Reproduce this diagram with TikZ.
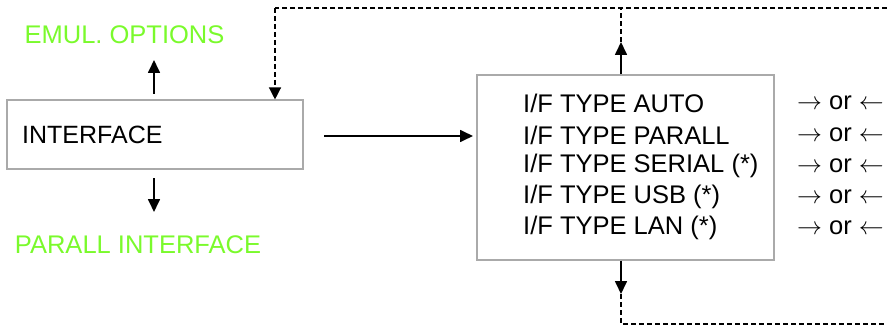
\documentclass[tikz,border=0pt]{standalone}
\usepackage{fontspec}
\setmainfont{Liberation Sans}
\usetikzlibrary{arrows.meta}
\definecolor{optgreen}{RGB}{122,250,44}
\definecolor{boxgray}{RGB}{170,170,170}
\begin{document}
\begin{tikzpicture}[x=1pt,y=-1pt,
  menubox/.style={draw=boxgray,line width=1.1pt,minimum width=#1,inner sep=0pt},
  lbl/.style={inner sep=0pt,anchor=west,font=\fontsize{25}{25}\selectfont},
  typelbl/.style={inner sep=0pt,anchor=west,font=\fontsize{25.5}{25.5}\selectfont},
  orlbl/.style={inner sep=0pt,anchor=west,font=\fontsize{25.5}{25.5}\selectfont},
  opt/.style={inner sep=0pt,text=optgreen,font=\fontsize{25.5}{25.5}\selectfont},
  solidarr/.style={line width=1.7pt,-{Triangle[length=13pt,width=12pt]}},
  dashln/.style={line width=1.3pt,dash pattern=on 5pt off 3pt},
  dasharr/.style={dashln,-{Triangle[length=12pt,width=12pt]}}]
\useasboundingbox (0,0) rectangle (887,329);
% left box
\node[menubox=296pt,minimum height=69pt] (ifbox) at (155,134.5) {};
\node[lbl] (iftext) at (22,135) {INTERFACE};
\node[opt] (emul) at (124.5,35) {EMUL. OPTIONS};
\node[opt] (parall) at (138,245) {PARALL INTERFACE};
% right box
\node[menubox=297pt,minimum height=185pt] (typebox) at (625.5,167.5) {};
\node[typelbl] (ta) at (523,103) {I/F TYPE AUTO};
\node[typelbl] (tb) at (523,135) {I/F TYPE PARALL};
\node[typelbl] (tc) at (523,166) {I/F TYPE SERIAL (*)};
\node[typelbl] (td) at (523,197) {I/F TYPE USB (*)};
\node[typelbl] (te) at (523,228) {I/F TYPE LAN (*)};
\node[orlbl] (oa) at (797,103) {$\rightarrow$ or $\leftarrow$};
\node[orlbl] (ob) at (797,135) {$\rightarrow$ or $\leftarrow$};
\node[orlbl] (oc) at (797,166) {$\rightarrow$ or $\leftarrow$};
\node[orlbl] (od) at (797,197) {$\rightarrow$ or $\leftarrow$};
\node[orlbl] (oe) at (797,228) {$\rightarrow$ or $\leftarrow$};
% coordinates
\coordinate (upS) at (154,94);
\coordinate (upE) at (154,60);
\coordinate (dnS) at (154,178);
\coordinate (dnE) at (154,212);
\coordinate (hS) at (324,136);
\coordinate (hE) at (473,136);
\coordinate (topL) at (275,8);
\coordinate (topR) at (887,8);
\coordinate (topM) at (621,8);
\coordinate (upTip) at (621,42);
\coordinate (dnTip) at (621,294);
\coordinate (botM) at (621,324);
\coordinate (botR) at (887,324);
% connectors
\draw[solidarr] (upS) -- (upE);
\draw[solidarr] (dnS) -- (dnE);
\draw[solidarr] (hS) -- (hE);
\draw[solidarr] (typebox.north -| upTip) -- (upTip);
\draw[dashln] (upTip) -- (topM);
\draw[solidarr] (typebox.south -| dnTip) -- (dnTip);
\draw[dashln] (dnTip) -- (botM) -- (botR);
\draw[dashln] (topR) -- (topL);
\draw[dasharr] (topL) -- (topL |- ifbox.north);
\end{tikzpicture}
\end{document}
